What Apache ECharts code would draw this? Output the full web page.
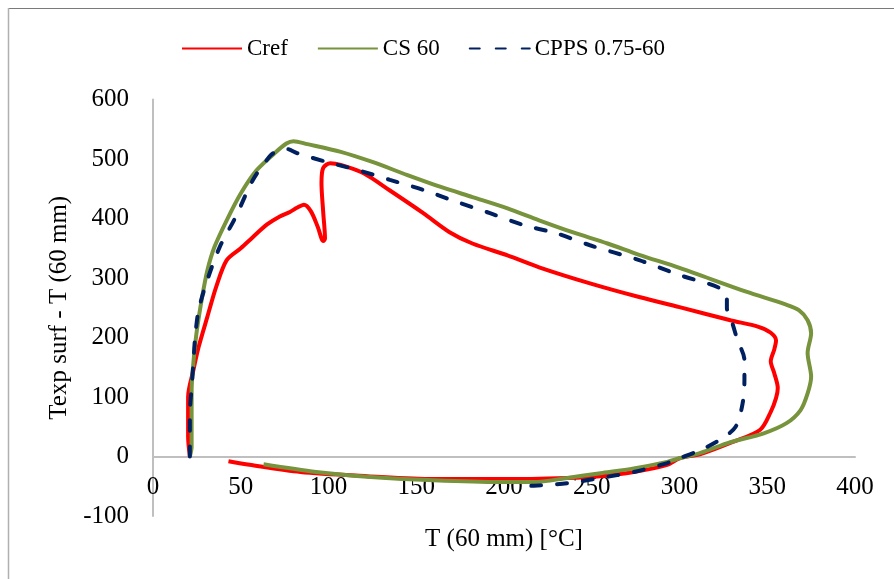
<!DOCTYPE html>
<html>
<head>
<meta charset="utf-8">
<script src="https://cdn.jsdelivr.net/npm/echarts@6/dist/echarts.min.js"></script>
<style>
html,body{margin:0;padding:0;background:#fff;}
#chart{width:894px;height:579px;}
</style>
</head>
<body>
<div id="chart"></div>
<script>
var seriesNames = ['Cref', 'CS 60', 'CPPS 0.75-60'];
var xTitle = 'T (60 mm) [°C]';
var yTitle = 'Texp surf - T (60 mm)';

var crefData = [
  [21,0],[20,33],[20,66],[20,100],[23,145],[26,184],[31,235],[36,285],[42,330],[50,350],
  [57,369],[65,390],[72,403],[78,411],[82,418],[86,423],[90,412],[94,385],[97,362],[98,366],
  [97,410],[96,460],[97,485],[101,493],[107,490],[120,476],[135,447],[154,409],[169,377],[182,358],
  [202,338],[220,318],[249,291],[277,268],[300,251],[329,229],[345,218],[352,208],[355,195],[354,180],
  [352,160],[354,140],[356,115],[355,98],[352,75],[346,45],[330,24],[312,4],[300,-3],[293,-14],
  [274,-26],[255,-33],[236,-36],[198,-38],[160,-38],[122,-33],[84,-26],[55,-14],[43,-8]
];
var cs60Data = [
  [21,0],[22,16],[22,60],[22,110],[23,157],[25,212],[28,268],[31,313],[35,352],[42,397],
  [50,442],[59,481],[69,509],[76,526],[80,530],[88,525],[107,512],[125,495],[145,473],[164,453],
  [182,436],[202,417],[220,397],[239,377],[259,358],[277,339],[300,317],[338,277],[360,256],[368,246],
  [373,229],[375,207],[373,174],[375,134],[373,106],[369,78],[361,56],[348,39],[329,24],[312,6],
  [300,-3],[293,-9],[274,-20],[255,-28],[236,-36],[217,-43],[198,-43],[160,-40],[122,-34],[93,-26],
  [63,-13]
];
var cppsData = [
  [21,0],[21,35],[21,73],[22,115],[23,157],[24,200],[26,246],[31,297],[38,352],[47,402],
  [57,465],[67,506],[72,515],[76,517],[82,510],[99,495],[116,482],[135,465],[154,448],[173,428],
  [192,409],[211,389],[230,375],[249,355],[277,330],[300,305],[323,283],[327,268],[327,250],[330,225],
  [333,196],[337,162],[337,129],[336,90],[332,50],[323,28],[312,11],[300,-3],[293,-11],[274,-26],
  [255,-36],[236,-45],[217,-49],[207,-50]
];

var font = "'Liberation Serif','Times New Roman',serif";
var chart = echarts.init(document.getElementById('chart'), null, {renderer:'canvas'});
chart.setOption({
  animation: false,
  backgroundColor: '#ffffff',
  textStyle: {fontFamily: font, color: '#000'},
  graphic: [
    {type:'line', shape:{x1:8,y1:8.5,x2:894,y2:8.5}, style:{stroke:'#7a7a7a', lineWidth:1}, silent:true},
    {type:'line', shape:{x1:8.5,y1:8,x2:8.5,y2:579}, style:{stroke:'#b0b0b0', lineWidth:1.5}, silent:true}
  ],
  legend: {
    left: 176, top: 32,
    itemWidth: 60, itemHeight: 14, itemGap: 29,
    itemStyle: {opacity: 0},
    textStyle: {fontFamily: font, fontSize: 23, color: '#000'},
    data: seriesNames
  },
  grid: {left:153, right:39, top:99.5, bottom:63, outerBoundsMode:'none', containLabel:false},
  xAxis: {
    type:'value', min:0, max:400, interval:50,
    position:'bottom', offset:-59.5,
    name: xTitle, nameLocation:'middle', nameGap:70,
    nameTextStyle:{fontFamily:font, fontSize:25, color:'#000'},
    axisLine:{show:true, onZero:false, lineStyle:{color:'#BFBFBF', width:2}},
    axisTick:{show:false},
    splitLine:{show:false},
    axisLabel:{fontFamily:font, fontSize:25, color:'#000', margin:18}
  },
  yAxis: {
    type:'value', min:-100, max:600, interval:100,
    name: yTitle, nameLocation:'middle', nameGap:80,
    nameTextStyle:{fontFamily:font, fontSize:25, color:'#000'},
    axisLine:{show:true, onZero:false, lineStyle:{color:'#BFBFBF', width:2}},
    axisTick:{show:false},
    splitLine:{show:false},
    axisLabel:{fontFamily:font, fontSize:25, color:'#000', margin:24}
  },
  series: [
    {name:seriesNames[0], type:'line', data:crefData, showSymbol:false, symbol:'none', smooth:0.3,
     lineStyle:{color:'#FF0000', width:4}, itemStyle:{color:'#FF0000'}},
    {name:seriesNames[1], type:'line', data:cs60Data, showSymbol:false, symbol:'none', smooth:0.3,
     lineStyle:{color:'#77933C', width:4}, itemStyle:{color:'#77933C'}},
    {name:seriesNames[2], type:'line', data:cppsData, showSymbol:false, symbol:'none', smooth:0.3,
     lineStyle:{color:'#002060', width:4, type:[10,16], cap:'round'}, itemStyle:{color:'#002060'}}
  ]
});
</script>
</body>
</html>
